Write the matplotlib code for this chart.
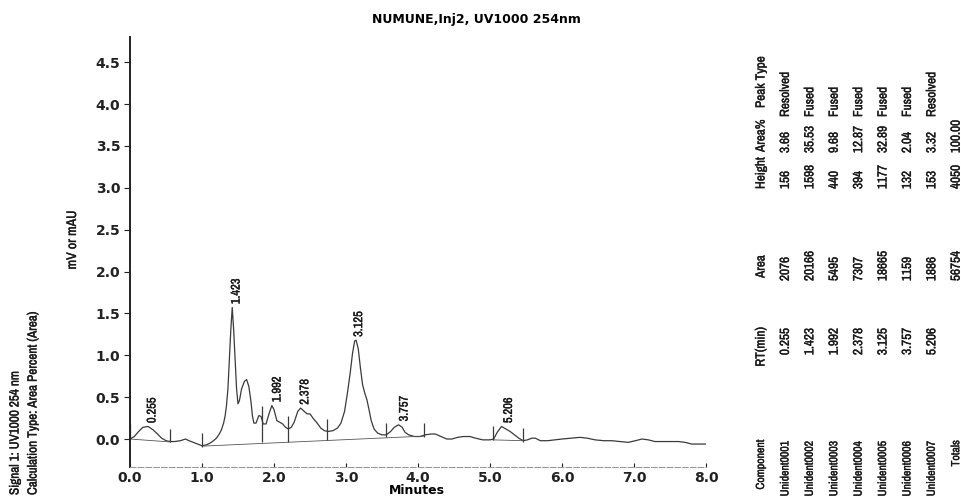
'''
Chromatogram: NUMUNE, Inj2, UV1000 254nm with peak report table
'''

import numpy as np
import matplotlib
matplotlib.use("Agg")
import matplotlib.pyplot as plt
import matplotlib.patheffects as pe
from matplotlib import font_manager
from matplotlib.font_manager import FontProperties

# trace (minutes, mV or mAU)
time_min = [0.00, 0.06, 0.12, 0.18, 0.25, 0.32, 0.37, 0.44, 0.50, 0.56,
            0.62, 0.70, 0.77, 0.82, 0.88, 0.94, 1.00, 1.06, 1.11, 1.16,
            1.20, 1.24, 1.27, 1.30, 1.32, 1.34, 1.36, 1.38, 1.40, 1.42,
            1.44, 1.46, 1.48, 1.50, 1.52, 1.55, 1.59, 1.62, 1.65, 1.68,
            1.70, 1.72, 1.75, 1.79, 1.82, 1.85, 1.89, 1.93, 1.97, 2.00,
            2.04, 2.08, 2.12, 2.16, 2.20, 2.24, 2.28, 2.33, 2.37, 2.42,
            2.46, 2.50, 2.55, 2.60, 2.65, 2.70, 2.75, 2.82, 2.88, 2.93,
            2.98, 3.02, 3.06, 3.09, 3.12, 3.14, 3.17, 3.20, 3.23, 3.26,
            3.29, 3.32, 3.35, 3.39, 3.44, 3.50, 3.56, 3.62, 3.67, 3.73,
            3.78, 3.82, 3.87, 3.95, 4.03, 4.10, 4.18, 4.24, 4.32, 4.40,
            4.47, 4.55, 4.63, 4.72, 4.80, 4.90, 5.00, 5.05, 5.10, 5.16,
            5.22, 5.28, 5.34, 5.40, 5.46, 5.52, 5.58, 5.63, 5.70, 5.80,
            5.90, 6.00, 6.12, 6.25, 6.35, 6.46, 6.58, 6.69, 6.80, 6.92,
            7.02, 7.11, 7.20, 7.29, 7.40, 7.52, 7.62, 7.71, 7.80, 7.90,
            8.00]
signal = [0.00, 0.03, 0.09, 0.14, 0.15, 0.11, 0.07, 0.01, -0.02, -0.03,
          -0.03, -0.02, 0.00, -0.02, -0.04, -0.06, -0.08, -0.07, -0.05, -0.02,
          0.01, 0.06, 0.11, 0.19, 0.27, 0.40, 0.60, 0.95, 1.30, 1.57,
          1.30, 0.94, 0.60, 0.42, 0.46, 0.60, 0.69, 0.71, 0.63, 0.45,
          0.28, 0.19, 0.19, 0.28, 0.27, 0.18, 0.18, 0.30, 0.40, 0.35,
          0.22, 0.20, 0.18, 0.14, 0.12, 0.14, 0.20, 0.33, 0.37, 0.33,
          0.30, 0.30, 0.24, 0.19, 0.13, 0.10, 0.09, 0.10, 0.13, 0.19,
          0.33, 0.55, 0.80, 1.02, 1.17, 1.18, 1.08, 0.85, 0.65, 0.55,
          0.47, 0.35, 0.22, 0.12, 0.07, 0.05, 0.05, 0.09, 0.14, 0.17,
          0.14, 0.08, 0.05, 0.03, 0.03, 0.05, 0.06, 0.06, 0.03, 0.00,
          0.00, 0.02, 0.03, 0.03, 0.01, -0.01, -0.01, 0.00, 0.08, 0.15,
          0.12, 0.09, 0.05, 0.01, -0.02, -0.01, 0.01, 0.01, -0.02, -0.02,
          -0.01, 0.00, 0.01, 0.02, 0.01, -0.01, -0.02, -0.02, -0.03, -0.04,
          -0.02, 0.00, -0.01, -0.03, -0.03, -0.03, -0.03, -0.04, -0.06, -0.06,
          -0.06]

# integration events (tick marks) and baselines
event_x = [0.00, 0.56, 1.00, 1.83, 2.20, 2.73, 3.55, 4.09, 5.04, 5.46]
event_lo = [0.00, -0.03, -0.09, -0.04, -0.03, -0.01, 0.03, 0.03, -0.01, -0.03]
event_hi = [0.18, 0.12, 0.07, 0.39, 0.27, 0.24, 0.19, 0.19, 0.15, 0.13]
base_x = [[0.00, 0.56], [1.00, 4.09], [5.04, 5.46]]
base_y = [[0.00, -0.035], [-0.085, 0.035], [-0.01, -0.02]]

# peak report
peak_rt = [0.255, 1.423, 1.992, 2.378, 3.125, 3.757, 5.206]
peak_top = [0.15, 1.57, 0.40, 0.37, 1.18, 0.17, 0.15]
components = ["Unident0001", "Unident0002", "Unident0003", "Unident0004",
              "Unident0005", "Unident0006", "Unident0007"]
areas = [2076, 20166, 5495, 7307, 18665, 1159, 1886]
heights = [156, 1598, 440, 394, 1177, 132, 153]
area_pct = [3.66, 35.53, 9.68, 12.87, 32.89, 2.04, 3.32]
peak_types = ["Resolved", "Fused", "Fused", "Fused", "Fused", "Fused", "Resolved"]

W, H = 962, 497


def pick_narrow():
    # look for an installed narrow / condensed regular face
    best = None
    for f in font_manager.fontManager.ttflist:
        if f.style != "normal" or f.weight not in (400, "normal", "regular"):
            continue
        name = f.name.lower()
        rank = None
        if "narrow" in name:
            rank = 0
        elif "condensed" in name or "condensed" in str(f.stretch) \
                or "condensed" in f.fname.lower():
            if "extra" in f.fname.lower() or "semi" in f.fname.lower():
                rank = 3
            else:
                rank = 1 if "sans" in name else 2
        if rank is not None and (best is None or rank < best[0]):
            best = (rank, f.fname)
    if best is None:
        return FontProperties(family="Liberation Sans")
    return FontProperties(fname=best[1])


narrow = pick_narrow()
bold_font = "DejaVu Sans"
ink = [pe.withStroke(linewidth=0.25, foreground="#1a1a1a")]


def nfont(size):
    fp = narrow.copy()
    fp.set_size(size)
    return fp


fig = plt.figure(figsize=(W / 100, H / 100), dpi=100, facecolor="white")


def fx(px):
    return px / W


def fy(py):
    return 1 - py / H


# axes box in pixels: left 130, right 706, top 37, bottom 467
ax = fig.add_axes([fx(130), fy(467), (706 - 130) / W, (467 - 37) / H])
ax.set_xlim(0, 8)
ax.set_ylim(-0.334, 4.80)

ax.plot(time_min, signal, color="#3a3a3a", lw=0.9)
for bx, by in zip(base_x, base_y):
    ax.plot(bx, by, color="#555555", lw=0.6)
ax.vlines(event_x, event_lo, event_hi, color="#3a3a3a", lw=0.9)

for rt, top in zip(peak_rt, peak_top):
    ax.text(rt + 0.05, top + 0.04, "{:.3f}".format(rt), rotation=90,
            ha="center", va="bottom", fontproperties=nfont(9),
            color="#1a1a1a", path_effects=ink)

# axes styling
for s in ["top", "right"]:
    ax.spines[s].set_visible(False)
ax.spines["left"].set_linewidth(1.4)
ax.spines["left"].set_color("#222222")
ax.spines["bottom"].set_color("#999999")
ax.spines["bottom"].set_linewidth(0.8)
ax.spines["bottom"].set_linestyle((0, (5, 2)))

ax.set_yticks(np.arange(0, 4.51, 0.5))
ax.set_yticklabels(["{:.1f}".format(v) for v in np.arange(0, 4.51, 0.5)])
ax.set_xticks(np.arange(0, 8.01, 1.0))
ax.set_xticklabels(["{:.1f}".format(v) for v in np.arange(0, 8.01, 1.0)])
ax.tick_params(axis="y", direction="out", length=4, width=0.8, pad=3,
               labelsize=10, colors="#222222")
ax.tick_params(axis="x", direction="in", length=3, width=0.8, pad=3,
               labelsize=10, colors="#222222")
for lab in ax.get_xticklabels() + ax.get_yticklabels():
    lab.set_fontweight("bold")
    lab.set_family(bold_font)

# titles and side notes
fig.text(fx(476), fy(20), "NUMUNE,Inj2, UV1000 254nm", ha="center", va="center",
         fontsize=9, fontweight="bold", family=bold_font)
fig.text(fx(417), fy(491), "Minutes", ha="center", va="center",
         fontsize=9, fontweight="bold", family=bold_font)
fig.text(fx(72), fy(240), "mV or mAU", rotation=90, ha="center", va="center",
         fontproperties=nfont(10), color="#1a1a1a", path_effects=ink)
fig.text(fx(15), fy(495), "Signal 1: UV1000 254 nm", rotation=90,
         ha="center", va="bottom", fontproperties=nfont(9.5),
         color="#1a1a1a", path_effects=ink)
fig.text(fx(33), fy(495), "Calculation Type: Area Percent (Area)", rotation=90,
         ha="center", va="bottom", fontproperties=nfont(9.5),
         color="#1a1a1a", path_effects=ink)

# peak report table, printed sideways
row_x = [761 + 24.4 * i for i in range(9)]
columns = [
    ("Peak Type", peak_types + [""], 108, 117, "bottom", 9.5),
    ("Area%", ["{:.2f}".format(v) for v in area_pct] + ["100.00"], 152, 153, "bottom", 9.5),
    ("Height", [str(v) for v in heights] + [str(sum(heights))], 189, 189, "bottom", 9.5),
    ("Area", [str(v) for v in areas] + [str(sum(areas))], 278, 281, "bottom", 9.5),
    ("RT(min)", ["{:.3f}".format(v) for v in peak_rt] + [""], 327, 328, "top", 9.5),
    ("Component", components + ["Totals"], 439, 440, "top", 8.5),
]
for header, values, head_y, val_y, va, size in columns:
    fig.text(fx(row_x[0]), fy(head_y), header, rotation=90, ha="center", va=va,
             fontproperties=nfont(size), color="#1a1a1a", path_effects=ink)
    for i, val in enumerate(values):
        fig.text(fx(row_x[i + 1]), fy(val_y), val, rotation=90, ha="center", va=va,
                 fontproperties=nfont(size), color="#1a1a1a", path_effects=ink)

plt.savefig("out.png", dpi=100)
